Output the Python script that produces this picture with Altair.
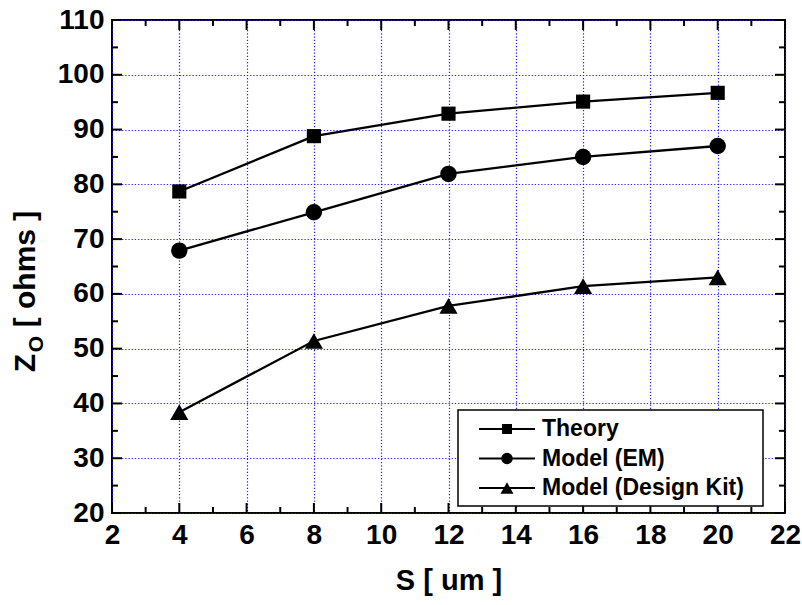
import altair as alt
import pandas as pd

# ---------------- data ----------------
names = ["Theory", "Model (EM)", "Model (Design Kit)"]
s_um = [4, 8, 12, 16, 20]
theory = [78.7, 88.8, 92.9, 95.1, 96.7]
model_em = [67.9, 74.9, 81.9, 85.0, 87.0]
model_dk = [38.4, 51.4, 57.8, 61.4, 63.0]

x_major = [2, 4, 6, 8, 10, 12, 14, 16, 18, 20, 22]
x_minor = [3, 5, 7, 9, 11, 13, 15, 17, 19, 21]
y_major = [20, 30, 40, 50, 60, 70, 80, 90, 100, 110]
y_minor = [25, 35, 45, 55, 65, 75, 85, 95, 105]

shapes = ["square", "circle", "triangle-up"]
sizes = [200, 270, 330]
leg_sizes = [100, 130, 170]

# ---------------- layout ----------------
W, H = 673, 493
FONT = "Liberation Sans"

rows = []
for name, vals in zip(names, [theory, model_em, model_dk]):
    for s, z in zip(s_um, vals):
        rows.append({"series": name, "S": s, "Z": z})
df = pd.DataFrame(rows)

xscale = alt.Scale(domain=[2, 22], nice=False, zero=False)
yscale = alt.Scale(domain=[20, 110], nice=False, zero=False)

common_axis = dict(
    grid=True, gridColor="#1a1aff", gridDash=[1.2, 2], gridWidth=1.2,
    ticks=False, tickSize=0, domain=False,
    labelFont=FONT, labelFontSize=28, labelFontWeight="bold", labelColor="black",
    labelPadding=8, labelFlush=False, labelOverlap=False,
)
xaxis = alt.Axis(values=x_major, title="S [ um ]", titleFont=FONT, titleFontSize=29,
                 titleFontWeight="bold", titleColor="black", titlePadding=17,
                 **common_axis)
yaxis = alt.Axis(values=y_major, title="", **common_axis)

X = lambda f: alt.X(f, scale=xscale, axis=xaxis)
Y = lambda f: alt.Y(f, scale=yscale, axis=yaxis)

lines = alt.Chart(df).mark_line(color="black", strokeWidth=2.3).encode(
    x=X("S:Q"), y=Y("Z:Q"), detail="series:N",
)

layers = [lines]
for name, shp, sz in zip(names, shapes, sizes):
    layers.append(
        alt.Chart(df).transform_filter(alt.FieldEqualPredicate(field="series", equal=name))
        .mark_point(shape=shp, size=sz, filled=True, color="black", opacity=1)
        .encode(x=X("S:Q"), y=Y("Z:Q"))
    )

# inward ticks on all four sides
def xticks(vals, length):
    d = pd.DataFrame({"S": vals})
    bot = alt.Chart(d).mark_rule(color="black", strokeWidth=2).encode(
        x=X("S:Q"), y=alt.value(H), y2=alt.value(H - length))
    top = alt.Chart(d).mark_rule(color="black", strokeWidth=2).encode(
        x=X("S:Q"), y=alt.value(0), y2=alt.value(length))
    return [bot, top]

def yticks(vals, length):
    d = pd.DataFrame({"Z": vals})
    left = alt.Chart(d).mark_rule(color="black", strokeWidth=2).encode(
        y=Y("Z:Q"), x=alt.value(0), x2=alt.value(length))
    right = alt.Chart(d).mark_rule(color="black", strokeWidth=2).encode(
        y=Y("Z:Q"), x=alt.value(W), x2=alt.value(W - length))
    return [left, right]

layers += xticks(x_major, 10) + xticks(x_minor, 6) + yticks(y_major, 10) + yticks(y_minor, 6)

# legend (manual)
one = pd.DataFrame({"k": [0]})
layers.append(
    alt.Chart(one).mark_rect(fill="white", stroke="black", strokeWidth=1.5).encode(
        x=alt.value(346), x2=alt.value(651), y=alt.value(390), y2=alt.value(486))
)
leg_y = [409, 438.5, 468]
for name, shp, sz, ry in zip(names, shapes, leg_sizes, leg_y):
    layers.append(alt.Chart(one).mark_rule(color="black", strokeWidth=2).encode(
        x=alt.value(367), x2=alt.value(423), y=alt.value(ry)))
    layers.append(alt.Chart(one).mark_point(shape=shp, size=sz, filled=True, color="black", opacity=1).encode(
        x=alt.value(395), y=alt.value(ry)))
    layers.append(alt.Chart(one).mark_text(align="left", baseline="middle", font=FONT, fontSize=23,
                                           fontWeight="bold", color="black").encode(
        x=alt.value(430), y=alt.value(ry), text=alt.value(name)))

# y-axis title with subscript
layers.append(alt.Chart(one).mark_text(angle=270, align="center", baseline="alphabetic", font=FONT,
                                       fontSize=30, fontWeight="bold", color="black").encode(
    x=alt.value(-77), y=alt.value(343), text=alt.value("Z")))
layers.append(alt.Chart(one).mark_text(angle=270, align="center", baseline="alphabetic", font=FONT,
                                       fontSize=21, fontWeight="bold", color="black").encode(
    x=alt.value(-69), y=alt.value(324), text=alt.value("O")))
layers.append(alt.Chart(one).mark_text(angle=270, align="center", baseline="alphabetic", font=FONT,
                                       fontSize=30, fontWeight="bold", color="black").encode(
    x=alt.value(-77), y=alt.value(249), text=alt.value("[ ohms ]")))

chart = alt.layer(*layers).properties(
    width=W, height=H,
    autosize=alt.AutoSizeParams(type="none"),
    padding={"left": 112, "top": 20, "right": 17, "bottom": 92},
    background="white",
).configure_view(stroke="black", strokeWidth=2)

chart.save("out.html", embed_options={"renderer": "svg", "actions": False})
